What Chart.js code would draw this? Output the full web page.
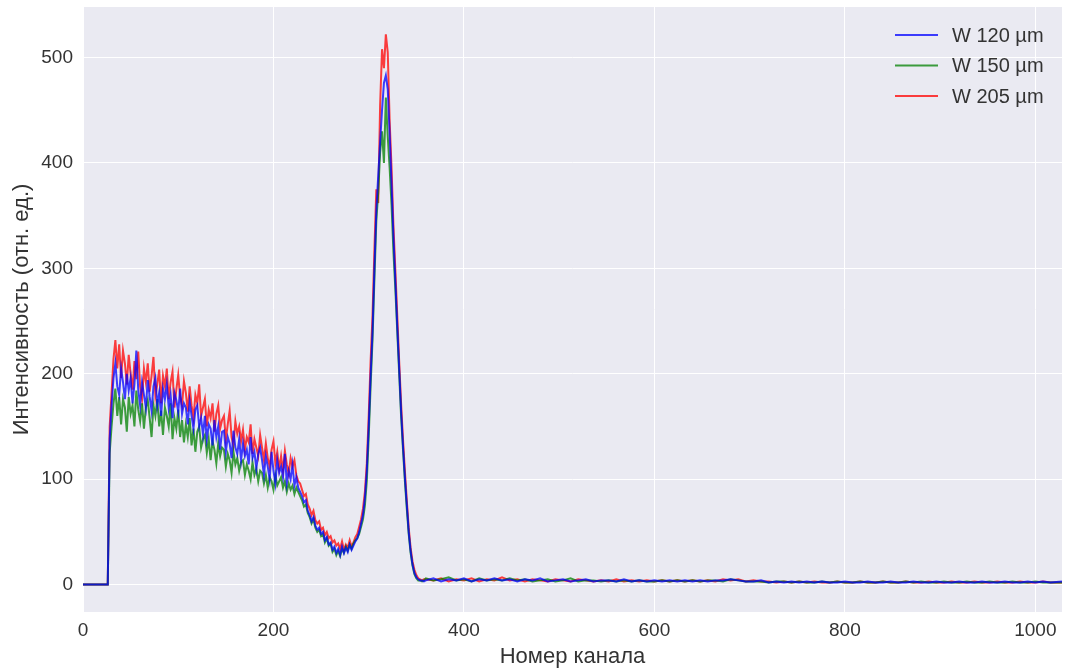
<!DOCTYPE html>
<html>
<head>
<meta charset="utf-8">
<script src="https://cdn.jsdelivr.net/npm/chart.js@4"></script>
<style>
  html, body { margin: 0; padding: 0; background: #fff; }
  canvas { display: block; }
</style>
</head>
<body>
<canvas id="spectrum" width="1066" height="671"></canvas>
<script>
"use strict";

// channel numbers (x) shared by all three spectra
const channels = [
  0, 26,
  28, 30, 32, 34, 36, 38, 40, 42, 44, 46,
  48, 50, 52, 54, 56, 58, 60, 62, 64, 66,
  68, 70, 72, 74, 76, 78, 80, 82, 84, 86,
  88, 90, 92, 94, 96, 98, 100, 102, 104, 106,
  108, 110, 112, 114, 116, 118, 120, 122, 124, 126,
  128, 130, 132, 134, 136, 138, 140, 142, 144, 146,
  148, 150, 152, 154, 156, 158, 160, 162, 164, 166,
  168, 170, 172, 174, 176, 178, 180, 182, 184, 186,
  188, 190, 192, 194, 196, 198, 200, 202, 204, 206,
  208, 210, 212, 214, 216, 218, 220, 222, 224, 226,
  228, 230, 232, 234, 236, 238, 240, 242, 244, 246,
  248, 250, 252, 254, 256, 258, 260, 262, 264, 266,
  268, 270, 272, 274, 276, 278, 280, 282, 284, 286,
  288, 290, 292, 294, 296, 298, 300, 302, 304, 306,
  308, 310, 312, 314, 316, 318, 320, 322, 324, 326,
  328, 330, 332, 334, 336, 338, 340, 342, 344, 346,
  348, 350, 352, 354, 356, 358,
  360, 368, 376, 384, 392, 400, 408, 416, 424, 432, 440, 448,
  456, 464, 472, 480, 488, 496, 504, 512, 520, 528, 536, 544,
  552, 560, 568, 576, 584, 592, 600, 608, 616, 624, 632, 640,
  648, 656, 664, 672, 680, 688, 696, 704, 712, 720, 728, 736,
  744, 752, 760, 768, 776, 784, 792, 800, 808, 816, 824, 832,
  840, 848, 856, 864, 872, 880, 888, 896, 904, 912, 920, 928,
  936, 944, 952, 960, 968, 976, 984, 992, 1000, 1008, 1016, 1028,
];

const w120 = [
  0, 0,
  138, 170, 196, 210, 188, 180, 205, 192, 176, 200,
  184, 196, 172, 190, 222, 185, 170, 192, 180, 168,
  194, 178, 165, 188, 196, 170, 182, 160, 186, 176,
  190, 168, 180, 158, 182, 175, 164, 186, 162, 172,
  168, 152, 174, 160, 148, 166, 170, 150, 158, 142,
  160, 138, 152, 148, 132, 156, 140, 150, 128, 145,
  146, 126, 140, 134, 120, 146, 130, 124, 138, 118,
  134, 122, 128, 114, 140, 120, 126, 110, 124, 130,
  118, 104, 122, 112, 100, 126, 108, 96, 118, 106,
  112, 102, 124, 96, 108, 100, 114, 94, 102, 92,
  88, 84, 78, 80, 70, 66, 60, 64, 56, 52,
  54, 48, 50, 42, 45, 38, 40, 33, 36, 30,
  34, 28, 36, 30, 35, 31, 38, 33, 37, 41,
  44, 50, 58, 66, 82, 108, 150, 198, 240, 300,
  355, 388, 420, 450, 476, 483, 470, 428, 380, 330,
  288, 245, 205, 165, 132, 102, 76, 50, 32, 19,
  11, 7, 5, 4, 4, 3,
  4, 6, 3, 5, 4, 6, 3, 5, 4, 6, 4, 5,
  3, 5, 4, 6, 3, 4, 5, 3, 4, 5, 3, 4,
  4, 3, 5, 3, 4, 3, 4, 3, 4, 3, 4, 3,
  4, 3, 4, 4, 5, 4, 3, 3, 4, 2, 3, 2,
  3, 2, 3, 2, 3, 2, 2, 3, 2, 2, 3, 2,
  2, 3, 2, 2, 3, 2, 2, 3, 2, 2, 3, 2,
  2, 3, 2, 2, 3, 2, 2, 3, 2, 3, 2, 3,
];

const w150 = [
  0, 0,
  125, 150, 172, 186, 160, 178, 152, 176, 168, 145,
  178, 162, 170, 150, 184, 166, 155, 172, 148, 168,
  175, 158, 140, 170, 160, 176, 150, 165, 142, 168,
  160, 150, 172, 138, 158, 148, 166, 140, 156, 135,
  152, 140, 158, 132, 148, 126, 145, 150, 130, 138,
  142, 125, 138, 118, 136, 128, 115, 134, 122, 130,
  128, 112, 124, 118, 106, 126, 114, 120, 108, 116,
  118, 104, 114, 108, 100, 116, 104, 110, 98, 108,
  106, 96, 104, 92, 102, 98, 90, 104, 94, 98,
  102, 92, 98, 88, 96, 90, 94, 86, 92, 88,
  84, 80, 74, 76, 68, 64, 58, 62, 54, 50,
  52, 46, 48, 40, 44, 37, 39, 31, 34, 28,
  32, 27, 34, 30, 36, 32, 38, 34, 39, 42,
  44, 48, 55, 62, 75, 98, 140, 188, 232, 290,
  345, 372, 410, 430, 400, 462, 425, 395, 360, 315,
  280, 240, 200, 160, 128, 98, 72, 48, 30, 18,
  10, 6, 4, 4, 3, 4,
  6, 4, 5, 7, 4, 5, 3, 6, 4, 5, 4, 6,
  4, 5, 3, 4, 5, 3, 4, 6, 3, 4, 4, 3,
  4, 3, 4, 3, 4, 3, 3, 4, 3, 4, 3, 4,
  3, 4, 4, 3, 5, 4, 3, 3, 3, 2, 3, 3,
  2, 3, 2, 2, 3, 2, 3, 2, 2, 3, 2, 2,
  3, 2, 2, 3, 2, 3, 2, 2, 3, 2, 2, 3,
  2, 2, 3, 2, 2, 3, 2, 2, 3, 2, 2, 2,
];

const w205 = [
  0, 0,
  150, 182, 214, 232, 205, 228, 196, 222, 210, 190,
  218, 200, 185, 212, 195, 221, 188, 176, 205, 192,
  210, 183, 198, 216, 179, 190, 204, 172, 198, 188,
  205, 176, 192, 202, 168, 185, 199, 178, 170, 193,
  182, 164, 188, 170, 158, 180, 172, 190, 160, 168,
  176, 150, 166, 158, 172, 145, 162, 170, 148, 156,
  160, 138, 152, 165, 140, 132, 155, 143, 150, 136,
  147, 128, 140, 135, 152, 124, 138, 130, 122, 142,
  130, 118, 134, 120, 112, 128, 136, 115, 126, 110,
  122, 108, 127, 114, 105, 120, 112, 118, 104, 98,
  96, 90, 84, 86, 76, 72, 66, 70, 61, 58,
  60, 52, 54, 47, 50, 44, 46, 40, 42, 37,
  39, 34, 41, 33, 38, 35, 42, 36, 40, 45,
  48, 55, 62, 72, 88, 115, 160, 212, 255, 318,
  375, 362, 455, 508, 490, 522, 505, 440, 395, 340,
  298, 255, 212, 172, 138, 108, 80, 54, 35, 22,
  14, 9, 6, 5, 4, 5,
  5, 4, 6, 3, 5, 4, 6, 3, 5, 4, 7, 4,
  5, 3, 5, 4, 3, 5, 4, 3, 5, 4, 3, 4,
  3, 5, 3, 4, 3, 4, 3, 4, 3, 4, 3, 4,
  3, 4, 3, 5, 4, 5, 3, 4, 3, 3, 2, 3,
  2, 3, 2, 3, 2, 2, 3, 2, 2, 3, 2, 2,
  3, 2, 2, 3, 2, 2, 3, 2, 2, 3, 2, 2,
  3, 2, 2, 3, 2, 2, 3, 2, 2, 3, 2, 2,
];

const seriesLabels = ["W 120 µm", "W 150 µm", "W 205 µm"];
const seriesColors = ["rgba(0, 0, 255, 0.75)", "rgba(0, 128, 0, 0.75)", "rgba(255, 0, 0, 0.75)"];
const xTicks = [0, 200, 400, 600, 800, 1000];
const yTicks = [0, 100, 200, 300, 400, 500];

const FONT = "'Liberation Sans', Arial, sans-serif";
const TEXT = "#333333";

function toPoints(values) {
  return channels.map((ch, i) => ({ x: ch, y: values[i] }));
}

const plotBackground = {
  id: "plotBackground",
  beforeDraw(chart) {
    const { ctx, chartArea: a } = chart;
    ctx.save();
    ctx.fillStyle = "#EAEAF2";
    ctx.fillRect(a.left, a.top, a.right - a.left, a.bottom - a.top);
    ctx.restore();
  },
};

// matplotlib-style legend in the upper right corner, no frame
const cornerLegend = {
  id: "cornerLegend",
  afterDatasetsDraw(chart) {
    const { ctx } = chart;
    ctx.save();
    ctx.font = "20px " + FONT;
    ctx.textBaseline = "middle";
    chart.data.datasets.forEach((ds, i) => {
      const y = 35 + i * 30.5;
      ctx.strokeStyle = ds.borderColor;
      ctx.lineWidth = 2;
      ctx.beginPath();
      ctx.moveTo(895, y);
      ctx.lineTo(938, y);
      ctx.stroke();
      ctx.fillStyle = TEXT;
      ctx.fillText(ds.label, 952, y + 1);
    });
    ctx.restore();
  },
};

const datasets = [w120, w150, w205].map((values, i) => ({
  label: seriesLabels[i],
  data: toPoints(values),
  borderColor: seriesColors[i],
  borderWidth: 2,
  pointRadius: 0,
  tension: 0,
  fill: false,
}));

new Chart(document.getElementById("spectrum"), {
  type: "line",
  data: { datasets },
  options: {
    responsive: false,
    animation: false,
    devicePixelRatio: 1,
    layout: { padding: { left: 0, right: 4, top: 7, bottom: 0 } },
    plugins: { legend: { display: false }, tooltip: { enabled: false } },
    scales: {
      x: {
        type: "linear",
        min: 0,
        max: 1028,
        afterBuildTicks: (s) => { s.ticks = xTicks.map((v) => ({ value: v })); },
        afterFit: (s) => { s.height = 59; s.paddingLeft = 0; s.paddingRight = 0; },
        grid: { color: "#ffffff", lineWidth: 1, drawTicks: false },
        border: { display: false },
        ticks: { padding: 7, color: TEXT, font: { family: FONT, size: 19 }, callback: (v) => String(v) },
        title: { display: true, text: "Номер канала", color: TEXT, padding: { top: 0, bottom: 1 }, font: { family: FONT, size: 22 } },
      },
      y: {
        type: "linear",
        min: -26,
        max: 548,
        afterBuildTicks: (s) => { s.ticks = yTicks.map((v) => ({ value: v })); },
        afterFit: (s) => { s.width = 83; s.paddingTop = 0; s.paddingBottom = 0; },
        grid: { color: "#ffffff", lineWidth: 1, drawTicks: false },
        border: { display: false },
        ticks: { padding: 10, color: TEXT, font: { family: FONT, size: 19 }, callback: (v) => String(v) },
        title: { display: true, text: "Интенсивность (отн. ед.)", color: TEXT, padding: { top: 9, bottom: 0 }, font: { family: FONT, size: 22 } },
      },
    },
  },
  plugins: [plotBackground, cornerLegend],
});
</script>
</body>
</html>
